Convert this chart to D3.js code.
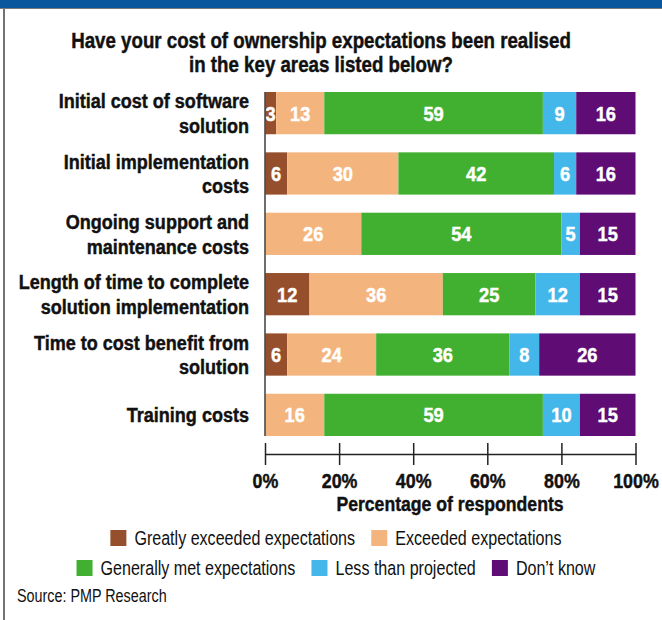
<!DOCTYPE html>
<html>
<head>
<meta charset="utf-8">
<script src="https://cdn.jsdelivr.net/npm/d3@7"></script>
<style>
  html, body { margin: 0; padding: 0; background: #fff; }
  svg { display: block; }
  text { font-family: "Liberation Sans Narrow", "Arial Narrow", "Liberation Sans", Arial, sans-serif; }
  .heavy { stroke: currentColor; stroke-width: 0.45px; paint-order: stroke; }
</style>
</head>
<body>
<svg id="chart" width="662" height="620"></svg>
<script>
// Survey areas (top to bottom) and response shares, in percent
const categories = [
  ["Initial cost of software", "solution"],
  ["Initial implementation", "costs"],
  ["Ongoing support and", "maintenance costs"],
  ["Length of time to complete", "solution implementation"],
  ["Time to cost benefit from", "solution"],
  ["Training costs"]
];
const seriesNames = [
  "Greatly exceeded expectations",
  "Exceeded expectations",
  "Generally met expectations",
  "Less than projected",
  "Don\u2019t know"
];
const greatlyExceeded = [3, 6, 0, 12, 6, 0];
const exceeded        = [13, 30, 26, 36, 24, 16];
const generallyMet    = [59, 42, 54, 25, 36, 59];
const lessThan        = [9, 6, 5, 12, 8, 10];
const dontKnow        = [16, 16, 15, 15, 26, 15];
const tickValues = [0, 20, 40, 60, 80, 100];
const colors = ["#964f2c", "#f4b47d", "#41b030", "#43b6ea", "#5f0c75"];

const seriesValues = [greatlyExceeded, exceeded, generallyMet, lessThan, dontKnow];
const keys = seriesNames;
const rows = categories.map((c, i) => {
  const r = { id: i };
  keys.forEach((k, j) => { r[k] = seriesValues[j][i]; });
  return r;
});
const stacked = d3.stack().keys(keys)(rows);

// Squeeze a text horizontally about its anchor point for a condensed look
function condense(sel, factor) {
  sel.each(function () {
    const ax = +(this.getAttribute("x") || 0);
    d3.select(this).attr("transform", `translate(${ax},0) scale(${factor},1) translate(${-ax},0)`);
  });
  return sel;
}

const svg = d3.select("#chart");

// Header band and frame
svg.append("rect").attr("x", 0).attr("y", 0).attr("width", 662).attr("height", 8).attr("fill", "#0a579e");
svg.append("line").attr("x1", 0).attr("x2", 662).attr("y1", 8.5).attr("y2", 8.5).attr("stroke", "#7a7a7a").attr("stroke-width", 1);
svg.append("line").attr("x1", 4).attr("x2", 4).attr("y1", 9).attr("y2", 620).attr("stroke", "#444").attr("stroke-width", 1.5);

// Title
const titleLines = ["Have your cost of ownership expectations been realised", "in the key areas listed below?"];
titleLines.forEach((ln, k) => {
  svg.append("text").attr("class", "heavy").attr("x", 321).attr("y", 48 + k * 24).attr("text-anchor", "middle")
    .attr("font-size", 22).attr("font-weight", "bold").attr("fill", "#111").style("color", "#111")
    .text(ln).call(condense, 0.85);
});

const x = d3.scaleLinear().domain([0, 100]).range([265, 635.5]);
const y = d3.scaleBand().domain(d3.range(categories.length)).range([92, 436]).paddingInner(0.3).paddingOuter(0);

// Bars
const layers = svg.append("g").selectAll("g").data(stacked).join("g")
  .attr("fill", (d, i) => colors[i]);
layers.selectAll("rect").data(d => d).join("rect")
  .attr("x", d => x(d[0]))
  .attr("y", (d, i) => y(i))
  .attr("width", d => x(d[1]) - x(d[0]))
  .attr("height", y.bandwidth());

// Segment value labels
layers.selectAll("text").data(d => d.map((s, i) => ({ s, i, v: s[1] - s[0] })).filter(o => o.v > 0))
  .join("text")
  .attr("class", "heavy")
  .attr("x", o => (x(o.s[0]) + x(o.s[1])) / 2)
  .attr("y", o => y(o.i) + y.bandwidth() / 2 + 7.5)
  .attr("text-anchor", "middle")
  .attr("font-size", 21).attr("font-weight", "bold").attr("fill", "#fff").style("color", "#fff")
  .text(o => o.v)
  .call(condense, 0.87);

// Category labels
const catG = svg.append("g");
categories.forEach((lines, i) => {
  const cy = y(i) + y.bandwidth() / 2;
  const lh = 24.5;
  lines.forEach((ln, k) => {
    catG.append("text").attr("class", "heavy").attr("text-anchor", "end")
      .attr("font-size", 20.5).attr("font-weight", "bold").attr("fill", "#111").style("color", "#111")
      .attr("x", 249)
      .attr("y", cy + 7.5 + (k - (lines.length - 1) / 2) * lh)
      .text(ln).call(condense, 0.88);
  });
});

// Vertical baseline
svg.append("line").attr("x1", 265).attr("x2", 265).attr("y1", 92).attr("y2", 436)
  .attr("stroke", "#4a4a4a").attr("stroke-width", 1.6);

// Bottom axis
const axis = svg.append("g").attr("transform", "translate(0,454)")
  .call(d3.axisBottom(x).tickValues(tickValues).tickSize(11).tickSizeOuter(0).tickFormat(d => d + "%"));
axis.select(".domain").attr("stroke", "#222").attr("stroke-width", 1.5);
axis.selectAll(".tick line").attr("stroke", "#222").attr("stroke-width", 1.5).attr("y1", -11);
axis.selectAll(".tick text").attr("class", "heavy").attr("y", 34).attr("dy", 0)
  .attr("font-size", 21).attr("font-weight", "bold").attr("fill", "#111").style("color", "#111")
  .style("font-family", "\"Liberation Sans Narrow\", \"Arial Narrow\", \"Liberation Sans\", Arial, sans-serif")
  .call(condense, 0.85);

svg.append("text").attr("class", "heavy").attr("x", 450).attr("y", 511).attr("text-anchor", "middle")
  .attr("font-size", 21).attr("font-weight", "bold").attr("fill", "#111").style("color", "#111")
  .text("Percentage of respondents").call(condense, 0.84);

// Legend, two centred rows
const legendRows = [[0, 1], [2, 3, 4]];
const legendY = [530, 560];
legendRows.forEach((idxs, r) => {
  const g = svg.append("g");
  let cx = 0;
  idxs.forEach(i => {
    const item = g.append("g").attr("transform", `translate(${cx},0)`);
    item.append("rect").attr("width", 16).attr("height", 16).attr("fill", colors[i]);
    const t = item.append("text").attr("x", 24).attr("y", 14.5)
      .attr("font-size", 19.5).attr("fill", "#111").text(seriesNames[i]);
    const w = t.node().getComputedTextLength() * 0.825;
    t.call(condense, 0.825);
    cx += 24 + w + 16;
  });
  const w = cx - 16;
  g.attr("transform", `translate(${336 - w / 2},${legendY[r]})`);
});

svg.append("text").attr("x", 17).attr("y", 602)
  .attr("font-size", 17.5).attr("fill", "#111").text("Source: PMP Research").call(condense, 0.82);
</script>
</body>
</html>
